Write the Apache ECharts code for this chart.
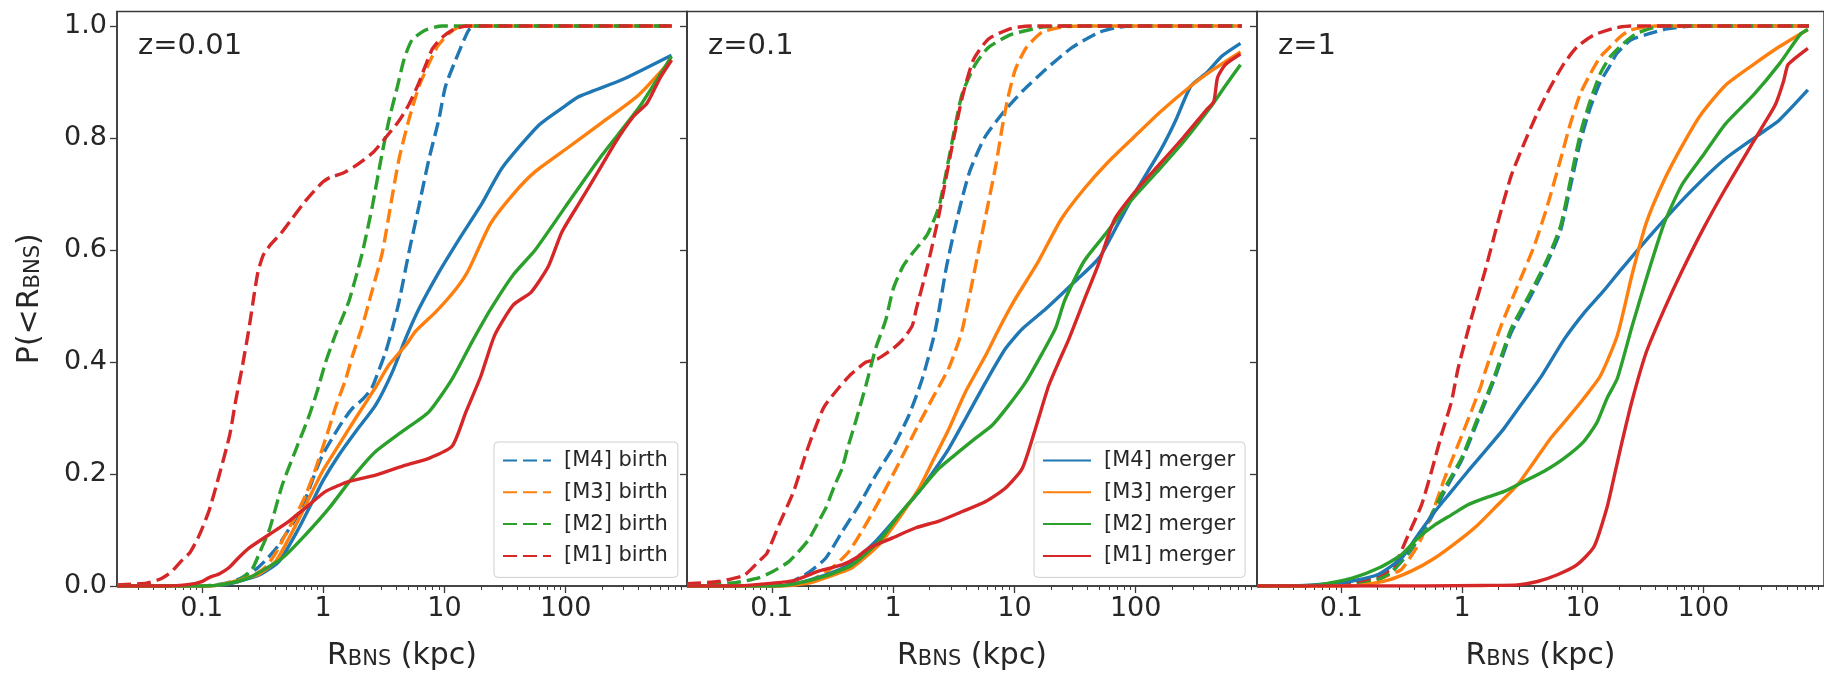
<!DOCTYPE html>
<html>
<head>
<meta charset="utf-8">
<script src="https://cdn.jsdelivr.net/npm/echarts@6/dist/echarts.min.js"></script>
<style>
  html, body { margin: 0; padding: 0; background: #ffffff; }
  #chart { width: 1824px; height: 676px; }
</style>
</head>
<body>
<div id="chart"></div>
<script>
// ---- labels, ticks, colours ----
const panelLabels = ['z=0.01', 'z=0.1', 'z=1'];
const modelNames = ['[M4]', '[M3]', '[M2]', '[M1]'];
const modelColors = ['#1f77b4', '#ff7f0e', '#2ca02c', '#d62728'];
const xMajorTicks = [0.1, 1, 10, 100];
const xMinorTicks = [0.03, 0.04, 0.05, 0.06, 0.07, 0.08, 0.09,
  0.2, 0.3, 0.4, 0.5, 0.6, 0.7, 0.8, 0.9,
  2, 3, 4, 5, 6, 7, 8, 9,
  20, 30, 40, 50, 60, 70, 80, 90,
  200, 300, 400, 500, 600, 700, 800, 900];
const yTicks = [0, 0.2, 0.4, 0.6, 0.8, 1.0];

// ---- cumulative distributions: [R_BNS (kpc), P(<R_BNS)] ----
// z = 0.01
const z001_M4_birth = [[0.02,0],[0.1,0],[0.15,0.004],[0.2,0.012],[0.28,0.03],[0.35,0.05],[0.42,0.07],[0.5,0.095],[0.6,0.122],[0.72,0.157],[0.87,0.205],[0.99,0.234],[1.19,0.264],[1.44,0.293],[1.74,0.317],[2.11,0.333],[2.5,0.352],[2.71,0.37],[3.28,0.418],[3.72,0.459],[4.22,0.507],[5.1,0.596],[6.17,0.679],[7.45,0.762],[9,0.833],[10.2,0.892],[12.4,0.94],[14.5,0.975],[15.9,0.993],[18,1],[750,1]];
const z001_M3_birth = [[0.02,0],[0.12,0],[0.2,0.008],[0.28,0.022],[0.34,0.035],[0.41,0.06],[0.49,0.092],[0.6,0.127],[0.72,0.163],[0.87,0.21],[1.12,0.282],[1.27,0.32],[1.54,0.37],[1.74,0.41],[2.11,0.465],[2.39,0.507],[3.08,0.596],[3.6,0.679],[4.22,0.762],[5.1,0.833],[6.17,0.892],[7.45,0.933],[8.73,0.963],[10.9,0.987],[14,1],[750,1]];
const z001_M2_birth = [[0.02,0],[0.1,0],[0.15,0.003],[0.2,0.01],[0.26,0.03],[0.3,0.06],[0.36,0.1],[0.46,0.18],[0.6,0.245],[0.77,0.305],[0.9,0.35],[1.05,0.4],[1.27,0.45],[1.64,0.51],[2.11,0.596],[2.55,0.679],[3,0.762],[3.5,0.833],[4.1,0.892],[4.64,0.94],[5.4,0.975],[7,0.993],[9.6,1],[750,1]];
const z001_M1_birth = [[0.02,0.002],[0.035,0.005],[0.045,0.012],[0.056,0.025],[0.068,0.045],[0.08,0.06],[0.095,0.09],[0.115,0.135],[0.14,0.2],[0.17,0.27],[0.19,0.33],[0.215,0.39],[0.245,0.46],[0.27,0.52],[0.29,0.56],[0.32,0.59],[0.37,0.61],[0.45,0.63],[0.55,0.655],[0.7,0.685],[0.8,0.7],[1.0,0.722],[1.15,0.73],[1.45,0.737],[1.9,0.752],[2.6,0.775],[3.4,0.805],[4.2,0.83],[5.1,0.86],[6.2,0.9],[7.0,0.93],[8.0,0.96],[9.6,0.98],[12.4,0.996],[16,1],[750,1]];
const z001_M4_merger = [[0.02,0],[0.1,0],[0.15,0.002],[0.2,0.008],[0.3,0.02],[0.434,0.044],[0.634,0.104],[0.817,0.151],[0.99,0.187],[1.35,0.234],[1.86,0.276],[2.71,0.323],[3.72,0.382],[4.79,0.442],[6.17,0.495],[9,0.56],[13.2,0.619],[20,0.68],[30,0.747],[60,0.823],[100,0.858],[128,0.874],[290,0.904],[745,0.948]];
const z001_M3_merger = [[0.02,0],[0.12,0],[0.2,0.01],[0.3,0.022],[0.41,0.045],[0.6,0.11],[0.767,0.157],[0.99,0.205],[1.35,0.252],[1.86,0.3],[2.71,0.355],[3.5,0.395],[4.8,0.43],[5.8,0.455],[8.45,0.489],[12.4,0.53],[15.7,0.563],[24,0.647],[37,0.7],[56,0.74],[100,0.78],[200,0.828],[400,0.877],[745,0.94]];
const z001_M2_merger = [[0.02,0],[0.1,0],[0.15,0.003],[0.246,0.015],[0.462,0.05],[0.72,0.092],[1.12,0.139],[1.74,0.193],[2.71,0.24],[4.5,0.276],[7.45,0.311],[11.6,0.37],[16.9,0.436],[24,0.494],[37,0.556],[56,0.6],[100,0.678],[200,0.77],[400,0.854],[745,0.946]];
const z001_M1_merger = [[0.02,0],[0.05,0],[0.079,0.003],[0.1,0.008],[0.115,0.015],[0.14,0.022],[0.168,0.033],[0.2,0.05],[0.246,0.068],[0.36,0.092],[0.525,0.116],[0.767,0.145],[1.05,0.169],[1.64,0.187],[2.71,0.198],[4.79,0.216],[7.45,0.228],[11.6,0.25],[15,0.31],[20,0.375],[26,0.448],[37,0.502],[52,0.525],[72,0.571],[93,0.632],[131,0.686],[184,0.739],[258,0.793],[363,0.839],[468,0.862],[602,0.908],[745,0.939]];

// z = 0.1
const z01_M4_birth = [[0.02,0],[0.1,0],[0.131,0.003],[0.204,0.025],[0.279,0.05],[0.383,0.098],[0.525,0.145],[0.72,0.198],[0.99,0.246],[1.35,0.305],[1.74,0.37],[2.22,0.455],[2.76,0.571],[3.43,0.663],[4.26,0.739],[5.69,0.801],[8.18,0.847],[11.8,0.885],[18.2,0.923],[30,0.962],[50,0.989],[72,0.998],[100,1],[750,1]];
const z01_M3_birth = [[0.02,0],[0.12,0],[0.204,0.009],[0.316,0.033],[0.434,0.062],[0.596,0.11],[0.817,0.163],[1.12,0.22],[1.54,0.279],[2.11,0.335],[2.89,0.39],[3.69,0.455],[4.93,0.586],[6.12,0.686],[7.08,0.755],[7.89,0.816],[8.8,0.87],[10.2,0.923],[12.6,0.962],[16.9,0.989],[24.3,0.998],[35,1],[750,1]];
const z01_M2_birth = [[0.02,0.003],[0.05,0.006],[0.079,0.015],[0.1,0.025],[0.139,0.044],[0.2,0.082],[0.25,0.12],[0.28,0.14],[0.33,0.18],[0.38,0.21],[0.42,0.245],[0.49,0.293],[0.6,0.36],[0.72,0.425],[0.87,0.475],[1.0,0.53],[1.2,0.57],[1.44,0.594],[1.92,0.628],[2.39,0.678],[2.97,0.778],[3.69,0.877],[4.75,0.931],[6.12,0.962],[9.46,0.985],[16.9,0.998],[25,1],[750,1]];
const z01_M1_birth = [[0.02,0.004],[0.036,0.008],[0.059,0.019],[0.079,0.045],[0.091,0.058],[0.115,0.11],[0.152,0.17],[0.19,0.235],[0.226,0.28],[0.27,0.32],[0.36,0.355],[0.45,0.378],[0.6,0.4],[0.75,0.406],[1.0,0.424],[1.2,0.44],[1.44,0.465],[1.55,0.494],[1.92,0.571],[2.39,0.663],[2.97,0.77],[3.69,0.87],[4.58,0.939],[6.12,0.977],[9.5,0.996],[14,1],[750,1]];
const z01_M4_merger = [[0.02,0],[0.1,0],[0.148,0.003],[0.279,0.02],[0.434,0.038],[0.72,0.08],[1.12,0.127],[1.64,0.169],[2.24,0.21],[2.89,0.246],[3.96,0.299],[5.8,0.364],[8.45,0.424],[11.6,0.459],[18.2,0.495],[32,0.545],[50,0.586],[72,0.648],[103,0.709],[160,0.778],[213,0.831],[285,0.893],[382,0.916],[512,0.946],[731,0.969]];
const z01_M3_merger = [[0.02,0],[0.12,0],[0.2,0.005],[0.279,0.015],[0.462,0.033],[0.767,0.074],[1.12,0.121],[1.64,0.175],[2.11,0.222],[2.89,0.281],[3.96,0.347],[5.8,0.412],[7.45,0.459],[10,0.51],[15.7,0.579],[24.3,0.655],[37.5,0.709],[58,0.755],[96,0.801],[160,0.847],[285,0.893],[440,0.923],[731,0.954]];
const z01_M2_merger = [[0.02,0],[0.1,0],[0.148,0.003],[0.279,0.018],[0.462,0.038],[0.767,0.08],[1.12,0.127],[1.64,0.169],[2.39,0.21],[3.49,0.24],[4.79,0.264],[6.56,0.287],[9,0.323],[12.4,0.364],[16.9,0.415],[21.8,0.46],[26,0.51],[37.5,0.58],[58,0.632],[89.5,0.686],[149,0.739],[247,0.793],[410,0.854],[547,0.893],[731,0.931]];
const z01_M1_merger = [[0.02,0],[0.05,0],[0.079,0.003],[0.148,0.009],[0.246,0.027],[0.383,0.038],[0.493,0.05],[0.634,0.068],[0.99,0.086],[1.54,0.104],[2.39,0.116],[3.72,0.133],[5.8,0.151],[8.45,0.175],[11.6,0.21],[14.9,0.281],[19.2,0.358],[23.2,0.4],[28,0.44],[37.5,0.51],[50,0.578],[67,0.655],[103,0.709],[160,0.755],[247,0.801],[382,0.85],[440,0.865],[473,0.908],[547,0.931],[731,0.95]];

// z = 1
const z1_M4_birth = [[0.02,0],[0.1,0.002],[0.2,0.012],[0.26,0.025],[0.36,0.058],[0.525,0.112],[0.72,0.17],[0.99,0.224],[1.35,0.295],[1.86,0.37],[2.55,0.452],[3.72,0.518],[5.1,0.578],[6.56,0.635],[7.94,0.715],[9.6,0.795],[11.6,0.855],[14,0.9],[16.9,0.93],[19.2,0.951],[25,0.975],[34,0.985],[50,0.995],[80,1],[750,1]];
const z1_M3_birth = [[0.02,0],[0.1,0.002],[0.2,0.012],[0.25,0.02],[0.316,0.03],[0.434,0.074],[0.559,0.127],[0.72,0.193],[0.927,0.252],[1.19,0.311],[1.44,0.358],[1.54,0.38],[2.11,0.465],[2.89,0.536],[3.96,0.607],[5.1,0.679],[6.56,0.762],[7.94,0.827],[9.6,0.88],[11.6,0.915],[14,0.945],[16.9,0.963],[20.5,0.981],[25,0.993],[40,1],[750,1]];
const z1_M2_birth = [[0.02,0],[0.1,0.002],[0.2,0.012],[0.26,0.025],[0.36,0.06],[0.525,0.116],[0.72,0.175],[0.99,0.228],[1.35,0.3],[1.86,0.375],[2.55,0.459],[3.72,0.525],[5.1,0.584],[6.56,0.643],[7.94,0.726],[9.6,0.809],[11.6,0.868],[14,0.915],[16.9,0.945],[21.8,0.969],[28,0.987],[45,1],[750,1]];
const z1_M1_birth = [[0.02,0],[0.05,0],[0.1,0.004],[0.15,0.01],[0.2,0.018],[0.25,0.028],[0.279,0.038],[0.36,0.092],[0.462,0.145],[0.559,0.205],[0.676,0.27],[0.817,0.329],[0.927,0.388],[1.19,0.477],[1.54,0.56],[1.98,0.649],[2.55,0.732],[3.28,0.791],[4.22,0.845],[5.43,0.892],[7,0.933],[9,0.963],[12.4,0.984],[18,0.996],[25,1],[750,1]];
const z1_M4_merger = [[0.02,0],[0.05,0.001],[0.08,0.004],[0.123,0.009],[0.204,0.021],[0.316,0.05],[0.434,0.092],[0.596,0.133],[0.817,0.169],[1.12,0.205],[1.54,0.24],[2.24,0.282],[3.0,0.32],[4.5,0.373],[7,0.44],[10.2,0.487],[14.9,0.527],[20.8,0.565],[38.5,0.632],[76.5,0.702],[152,0.763],[302,0.809],[425,0.832],[735,0.886]];
const z1_M3_merger = [[0.02,0],[0.12,0],[0.231,0.009],[0.383,0.027],[0.596,0.05],[0.927,0.08],[1.35,0.109],[1.98,0.145],[2.89,0.181],[3.96,0.222],[5.43,0.264],[7.45,0.299],[10.2,0.335],[14,0.375],[19.4,0.448],[25.6,0.555],[33.6,0.648],[47.4,0.725],[66.7,0.786],[94,0.84],[152,0.894],[263,0.932],[425,0.963],[735,0.994]];
const z1_M2_merger = [[0.02,0],[0.065,0.002],[0.123,0.014],[0.204,0.032],[0.316,0.056],[0.434,0.086],[0.596,0.109],[0.817,0.127],[1.12,0.145],[1.54,0.157],[2.24,0.169],[3.28,0.187],[4.79,0.205],[7,0.228],[10.2,0.258],[13.2,0.293],[15.9,0.335],[19.4,0.371],[25.6,0.463],[33.6,0.548],[47.4,0.648],[66.7,0.717],[101,0.771],[152,0.825],[263,0.878],[425,0.932],[641,0.986],[735,0.994]];
const z1_M1_merger = [[0.02,0],[0.5,0],[1.5,0.001],[2.89,0.002],[4.22,0.008],[6.17,0.02],[9,0.038],[12.4,0.07],[15.9,0.14],[18,0.19],[20.8,0.25],[25.6,0.33],[33.6,0.417],[47.4,0.494],[66.7,0.563],[101,0.64],[152,0.709],[214,0.763],[302,0.817],[396,0.86],[460,0.9],[500,0.93],[558,0.94],[735,0.96]];

// ---- chart assembly ----
const birthByPanel = [
  [z001_M4_birth, z001_M3_birth, z001_M2_birth, z001_M1_birth],
  [z01_M4_birth, z01_M3_birth, z01_M2_birth, z01_M1_birth],
  [z1_M4_birth, z1_M3_birth, z1_M2_birth, z1_M1_birth]
];
const mergerByPanel = [
  [z001_M4_merger, z001_M3_merger, z001_M2_merger, z001_M1_merger],
  [z01_M4_merger, z01_M3_merger, z01_M2_merger, z01_M1_merger],
  [z1_M4_merger, z1_M3_merger, z1_M2_merger, z1_M1_merger]
];

const FONT = 'DejaVu Sans';
const INK = '#262626';
const FRAME = '#3a3a3a';
const X_MIN = 0.02, X_MAX = 1000, Y_MIN = 0, Y_MAX = 1.026;
const panelLeft = [117, 687, 1257];
const PANEL_W = 570, PANEL_TOP = 11.5, PANEL_H = 576.8;
const LINE_W = 3.4;
const DASH = [14, 6];

const birthNames = modelNames.map(m => m + ' birth');
const mergerNames = modelNames.map(m => m + ' merger');

const grids = panelLeft.map(l => ({
  left: l, top: PANEL_TOP, width: PANEL_W, height: PANEL_H,
  show: true, borderColor: FRAME, borderWidth: 1.5, backgroundColor: 'transparent'
}));

// axis titles: R with a BNS subscript
const subRich = {
  a: { fontFamily: FONT, fontSize: 30, color: INK, padding: [0, 0, 7, 0] },
  b: { fontFamily: FONT, fontSize: 21, color: INK }
};

const xAxes = [];
panelLeft.forEach((_, p) => {
  xAxes.push({
    type: 'log', logBase: 10, gridIndex: p, min: X_MIN, max: X_MAX,
    name: '{a|R}{b|BNS}{a| (kpc)}', nameLocation: 'middle', nameGap: 55,
    nameTextStyle: { rich: subRich },
    axisLine: { show: true, lineStyle: { color: FRAME, width: 1.5 } },
    axisTick: { show: true, length: 7, inside: false, customValues: xMajorTicks,
                lineStyle: { color: FRAME, width: 1.3 } },
    axisLabel: { show: true, customValues: xMajorTicks, margin: 9,
                 fontFamily: FONT, fontSize: 27, color: INK,
                 formatter: v => (v < 1 ? Number(v).toFixed(1) : String(Math.round(v))) },
    splitLine: { show: false }, minorTick: { show: false }
  });
});
// minor log ticks (2..9 within each decade)
panelLeft.forEach((_, p) => {
  xAxes.push({
    type: 'log', logBase: 10, gridIndex: p, min: X_MIN, max: X_MAX, position: 'bottom',
    axisLine: { show: false },
    axisTick: { show: true, length: 4, inside: false, customValues: xMinorTicks,
                lineStyle: { color: FRAME, width: 1 } },
    axisLabel: { show: false }, splitLine: { show: false }
  });
});

const yAxes = panelLeft.map((_, p) => ({
  type: 'value', gridIndex: p, min: Y_MIN, max: Y_MAX,
  name: p === 0 ? '{a|P(<R}{b|BNS}{a|)}' : '',
  nameLocation: 'middle', nameGap: 65, nameRotate: 90,
  nameTextStyle: { rich: subRich },
  axisLine: { show: true, lineStyle: { color: FRAME, width: 1.5 } },
  axisTick: { show: true, length: 7, inside: false, customValues: yTicks,
              lineStyle: { color: FRAME, width: 1.3 } },
  axisLabel: { show: p === 0, customValues: yTicks, margin: 10,
               fontFamily: FONT, fontSize: 27, color: INK,
               formatter: v => Number(v).toFixed(1) },
  splitLine: { show: false }
}));

const series = [];
for (let p = 0; p < 3; p++) {
  for (let i = 0; i < 4; i++) {
    series.push({
      type: 'line', name: birthNames[i], xAxisIndex: p, yAxisIndex: p,
      data: birthByPanel[p][i], symbol: 'none', smooth: 0.2,
      color: modelColors[i],
      lineStyle: { color: modelColors[i], width: LINE_W, type: DASH },
      z: 2
    });
  }
  for (let i = 0; i < 4; i++) {
    series.push({
      type: 'line', name: mergerNames[i], xAxisIndex: p, yAxisIndex: p,
      data: mergerByPanel[p][i], symbol: 'none', smooth: 0.2,
      color: modelColors[i],
      lineStyle: { color: modelColors[i], width: LINE_W, type: 'solid' },
      z: 3
    });
  }
}

const legendBase = {
  orient: 'vertical', top: 442, itemWidth: 48, itemHeight: 14, itemGap: 10.8,
  padding: [8, 10, 11, 8], selectedMode: false,
  backgroundColor: 'rgba(255,255,255,0.8)', borderColor: '#cfcfcf',
  borderWidth: 1, borderRadius: 4,
  itemStyle: { opacity: 0, borderWidth: 0 },
  textStyle: { fontFamily: FONT, fontSize: 21, color: INK, padding: [0, 0, 0, 8] }
};

const titles = panelLabels.map((t, p) => ({
  text: t, left: panelLeft[p] + 21, top: 32, padding: 0,
  textStyle: { fontFamily: FONT, fontSize: 29, fontWeight: 'normal', color: INK }
}));

const chart = echarts.init(document.getElementById('chart'), null, { renderer: 'canvas' });
chart.setOption({
  animation: false,
  backgroundColor: '#ffffff',
  title: titles,
  grid: grids,
  xAxis: xAxes,
  yAxis: yAxes,
  legend: [
    Object.assign({}, legendBase, { left: 494, data: birthNames }),
    Object.assign({}, legendBase, { left: 1034, data: mergerNames })
  ],
  series: series
});
</script>
</body>
</html>
